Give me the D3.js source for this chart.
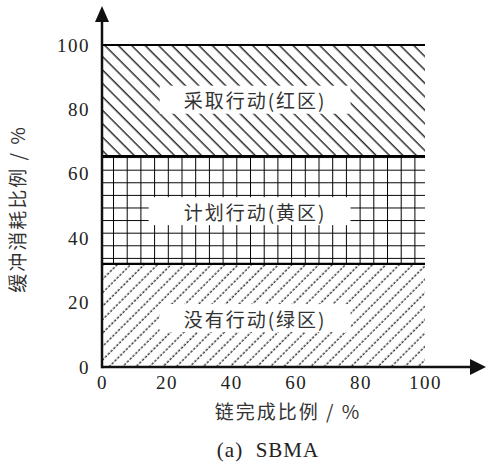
<!DOCTYPE html>
<html><head><meta charset="utf-8">
<script src="https://cdn.jsdelivr.net/npm/d3@7"></script>
<style>
html,body{margin:0;padding:0;background:#fff;}
svg{display:block;}
</style></head>
<body>
<svg id="chart" width="486" height="467"></svg>
<script>
// ---- data ----
const zoneNames = ["没有行动(绿区)", "计划行动(黄区)", "采取行动(红区)"];
const zoneLower = [0, 32, 65.5];
const zoneUpper = [32, 65.5, 100];
const zonePatterns = ["fwd", "grid", "back"];
const labelY = [15.2, 48.4, 83];
const labelX = [47.4, 47.4, 47.4];
const xTicks = [0, 20, 40, 60, 80, 100];
const yTicks = [0, 20, 40, 60, 80, 100];
const xTitle = "链完成比例 / %";
const yTitle = "缓冲消耗比例 / %";
const caption = "(a)  SBMA";

const svg = d3.select("#chart");
const x = d3.scaleLinear().domain([0, 100]).range([102, 425]);
const y = d3.scaleLinear().domain([0, 100]).range([367, 45]);
const serif = "'Liberation Serif', 'Times New Roman', serif";
const cjk = "'Noto Sans CJK SC', 'Noto Sans CJK JP', sans-serif";

const defs = svg.append("defs");
// backslash hatch
const pb = defs.append("pattern").attr("id", "back").attr("patternUnits", "userSpaceOnUse")
  .attr("width", 9.5).attr("height", 10).attr("patternTransform", "rotate(-45)");
pb.append("line").attr("x1", 4).attr("x2", 4).attr("y1", -1).attr("y2", 11)
  .attr("stroke", "#111").attr("stroke-width", 1.3);
// forward slash hatch
const pf = defs.append("pattern").attr("id", "fwd").attr("patternUnits", "userSpaceOnUse")
  .attr("width", 9.5).attr("height", 8).attr("patternTransform", "rotate(45)");
pf.append("line").attr("x1", 4).attr("x2", 4).attr("y1", 0).attr("y2", 8)
  .attr("stroke", "#111").attr("stroke-width", 1.2).attr("stroke-dasharray", "2.6,1.4");
// grid
const pg = defs.append("pattern").attr("id", "grid").attr("patternUnits", "userSpaceOnUse")
  .attr("width", 13.7).attr("height", 12.6).attr("x", x(0) + 11).attr("y", y(65.5) + 1);
pg.append("path").attr("d", "M0,0 L0,12.6 M0,0 L13.7,0")
  .attr("stroke", "#000").attr("stroke-width", 2);

// zones
const zones = svg.append("g");
zones.selectAll("rect.zone").data(zoneNames).join("rect").attr("class", "zone")
  .attr("x", x(0)).attr("width", x(100) - x(0))
  .attr("y", (d, i) => y(zoneUpper[i]))
  .attr("height", (d, i) => y(zoneLower[i]) - y(zoneUpper[i]))
  .attr("fill", (d, i) => "url(#" + zonePatterns[i] + ")");
zones.selectAll("line.bound").data(zoneUpper).join("line").attr("class", "bound")
  .attr("x1", x(0)).attr("x2", x(100))
  .attr("y1", d => y(d)).attr("y2", d => y(d))
  .attr("stroke", "#000").attr("stroke-width", 2.2);

// labels with white boxes
const lab = svg.append("g");
zoneNames.forEach((name, i) => {
  const g = lab.append("g");
  const t = g.append("text").attr("x", x(labelX[i])).attr("y", y(labelY[i]))
    .attr("text-anchor", "middle").attr("dominant-baseline", "central")
    .style("font-family", cjk).style("font-size", "19px").style("letter-spacing", "2px")
    .attr("fill", "#333").text(name);
  const bb = t.node().getBBox();
  const padL = i === 1 ? 35 : 24;
  g.insert("rect", "text").attr("x", bb.x - padL).attr("y", y(labelY[i]) - 14)
    .attr("width", bb.width + padL + 24).attr("height", 28).attr("fill", "#fff");
});

// axes
const ax = svg.append("g");
ax.append("line").attr("x1", x(0)).attr("x2", 470).attr("y1", y(0)).attr("y2", y(0))
  .attr("stroke", "#111").attr("stroke-width", 2.5);
ax.append("path").attr("d", `M470,${y(0) - 8} L486,${y(0)} L470,${y(0) + 8} Z`).attr("fill", "#111");
ax.append("line").attr("x1", x(0)).attr("x2", x(0)).attr("y1", y(0) + 1.2).attr("y2", 21)
  .attr("stroke", "#111").attr("stroke-width", 2.5);
ax.append("path").attr("d", `M${x(0) - 7},22 L${x(0)},6 L${x(0) + 7},22 Z`).attr("fill", "#111");

const xAxis = svg.append("g").attr("transform", `translate(0,${y(0)})`)
  .call(d3.axisBottom(x).tickValues(xTicks).tickSize(0).tickPadding(9).tickFormat(d3.format("d")));
xAxis.select(".domain").remove();
xAxis.attr("font-family", null).attr("font-size", null);
xAxis.selectAll("text").style("font-family", serif).style("font-size", "19px")
  .style("letter-spacing", "1.5px").attr("fill", "#222");

const yAxis = svg.append("g").attr("transform", `translate(${x(0)},0)`)
  .call(d3.axisLeft(y).tickValues(yTicks).tickSize(0).tickPadding(12).tickFormat(d3.format("d")));
yAxis.select(".domain").remove();
yAxis.attr("font-family", null).attr("font-size", null);
yAxis.selectAll("text").style("font-family", serif).style("font-size", "19px")
  .style("letter-spacing", "1.5px").attr("fill", "#222");

// titles
svg.append("text").attr("x", 288).attr("y", 419).attr("text-anchor", "middle")
  .style("font-family", cjk).style("font-size", "19px").style("letter-spacing", "2px")
  .attr("fill", "#333").text(xTitle);
svg.append("text").attr("transform", "translate(25,209) rotate(-90)").attr("text-anchor", "middle")
  .style("font-family", cjk).style("font-size", "19px").style("letter-spacing", "2px")
  .attr("fill", "#333").text(yTitle);
svg.append("text").attr("x", 268).attr("y", 457).attr("text-anchor", "middle")
  .style("font-family", serif).style("font-size", "21px").style("letter-spacing", "1px")
  .style("white-space", "pre").attr("fill", "#222").text(caption);
</script>
</body></html>
